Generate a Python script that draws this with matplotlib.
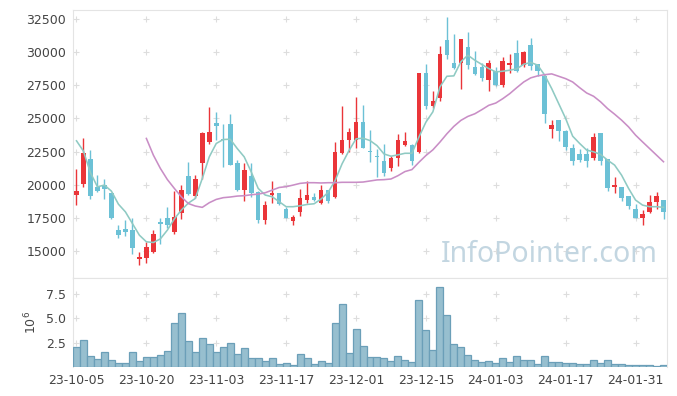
import numpy as np
import pandas as pd
import matplotlib
matplotlib.use("Agg")
import matplotlib.pyplot as plt

# trading days (KRX holidays removed)
holidays = ["2023-10-09", "2023-12-25", "2023-12-29", "2024-01-01"]
dates = pd.bdate_range("2023-10-05", "2024-02-06", freq="C", holidays=holidays)

opens = [19250, 20050, 21950, 19850, 19950, 19350, 16550, 16650, 16550, 14400,
         14450, 14950, 17200, 17450, 16450, 17900, 20650, 19150, 21600, 23250,
         24650, 23450, 24550, 21650, 19600, 20650, 19450, 17300, 19250, 19350,
         18150, 17250, 17950, 18850, 19050, 18600, 19600, 19050, 22400, 23350,
         23350, 24750, 22500, 22150, 21800, 21250, 22000, 23000, 23000, 22450,
         28400, 25900, 26550, 30900, 29150, 29150, 30400, 28850, 28850, 27900,
         28550, 27550, 29050, 29900, 29000, 30550, 29100, 28200, 24200, 24850,
         24050, 22750, 22300, 22300, 22050, 23900, 21950, 19800, 19800, 19150,
         18150, 17500, 17950, 18700, 18850]
highs = [21150, 23550, 22650, 20750, 20450, 19400, 16950, 17350, 17450, 14950,
         15700, 16600, 17450, 18300, 19500, 19950, 21700, 20700, 23950, 25850,
         25450, 24550, 25300, 21900, 21600, 21600, 19500, 18800, 20250, 19400,
         18350, 17700, 19700, 20300, 19400, 20000, 19600, 23250, 25900, 24250,
         26650, 26050, 24100, 22700, 23100, 22150, 23850, 23950, 23050, 28450,
         29100, 27050, 30450, 32650, 31400, 31000, 31550, 30100, 29150, 29400,
         28850, 29650, 29850, 30950, 30050, 31050, 29100, 28300, 24900, 24850,
         24150, 23100, 22700, 22750, 23900, 23900, 21950, 20600, 19800, 19150,
         18550, 18100, 19200, 19450, 18850]
lows = [18500, 19850, 18950, 19450, 18900, 17400, 16000, 16150, 14750, 13950,
        14100, 14850, 15500, 16700, 16250, 17400, 19250, 19000, 20450, 23050,
        23350, 21300, 21450, 19500, 18800, 19100, 17100, 17000, 18600, 18500,
        17450, 16950, 17650, 18600, 18800, 18550, 18600, 19000, 22300, 22500,
        22750, 22750, 21700, 20600, 20650, 21050, 21400, 22900, 21450, 22400,
        25700, 25750, 26350, 29450, 28700, 27250, 28700, 28250, 27800, 27050,
        27450, 27400, 28400, 28500, 28850, 28650, 28200, 24650, 23500, 23300,
        22600, 21450, 21700, 21300, 21900, 21450, 19500, 19350, 18750, 18150,
        17500, 16950, 17900, 18200, 17400]
closes = [19500, 22400, 19150, 19550, 19700, 17450, 16200, 16400, 15250, 14550,
          15300, 16300, 17050, 16950, 17550, 19600, 19300, 20450, 23900, 23950,
          24450, 23350, 21500, 19600, 21100, 19400, 17300, 18450, 19400, 18550,
          17500, 17550, 19000, 19200, 18850, 19600, 18800, 22500, 23350, 24000,
          24700, 22800, 22450, 22100, 20850, 22000, 23400, 23300, 21750, 28400,
          25900, 26300, 29850, 29800, 28800, 31000, 29050, 28350, 28050, 29150,
          27550, 29300, 29200, 28550, 30000, 28950, 28550, 25300, 24500, 24050,
          22850, 21750, 21900, 21750, 23600, 21800, 19750, 20000, 19000, 18400,
          17500, 17800, 18700, 19150, 17950]
ma_short = [23310, 22530, 20900, 19840, 19970, 19510, 18530, 17950, 17070, 16190,
            15690, 15640, 15910, 16570, 17420, 18080, 18610, 18960, 20470, 22100,
            23110, 23410, 23430, 22730, 22100, 20970, 19720, 19220, 19090, 18720,
            18340, 18340, 18410, 18510, 18560, 18920, 19420, 20300, 21570, 22580,
            23460, 23510, 23330, 22950, 22320, 22150, 22250, 22370, 22370, 23590,
            24720, 25500, 27370, 28180, 28210, 29270, 29770, 29390, 29070, 28760,
            28510, 28560, 28640, 28740, 29090, 29220, 29020, 28260, 27250, 26120,
            24990, 23660, 23110, 22610, 22480, 22280, 21850, 21480, 20720, 19720,
            18840, 18460, 18340, 18340, 18290]
ma_long = [np.nan] * 10 + [
            23490, 22230, 21230, 20390, 19720, 19090, 18580, 18390, 18290, 18640,
            18890, 19020, 19070, 19140, 19170, 19240, 19290, 19390, 19590, 19790,
            19850, 19970, 20100, 20150, 20150, 20130, 20150, 20150, 20180, 20180,
            20180, 20200, 20280, 20360, 20380, 20430, 20680, 20990, 21140, 21690,
            22200, 22630, 23210, 23840, 24400, 24850, 25150, 25350, 25660, 25990,
            26160, 26490, 26870, 27320, 27750, 28060, 28210, 28300, 28360, 28180,
            28000, 27750, 27320, 26920, 26670, 26250, 25740, 25320, 24870, 24360,
            23740, 23230, 22730, 22230, 21730]
volumes = [2.03, 2.75, 1.12, 0.82, 1.55, 0.72, 0.42, 0.42, 1.55, 0.62,
           1.02, 1.02, 1.22, 1.65, 4.48, 5.50, 2.65, 1.55, 2.95, 2.35,
           1.55, 2.03, 2.45, 1.32, 1.93, 0.92, 0.92, 0.62, 0.92, 0.32,
           0.42, 0.22, 1.32, 0.92, 0.32, 0.62, 0.42, 4.48, 6.40, 1.42,
           3.85, 2.12, 1.02, 1.02, 0.92, 0.62, 1.12, 0.72, 0.52, 6.80,
           3.75, 1.72, 8.20, 5.28, 2.35, 2.03, 1.22, 0.72, 0.52, 0.62,
           0.42, 0.92, 0.52, 1.12, 0.72, 0.72, 0.32, 1.12, 0.52, 0.52,
           0.42, 0.42, 0.32, 0.32, 0.72, 0.42, 0.72, 0.32, 0.32, 0.22,
           0.22, 0.22, 0.22, 0.12, 0.22]

UP = "#ea3539"
DOWN = "#6cc1d6"
GRID = "#dddddd"
SPINE = "#e4e4e4"
TXT = "#444444"

plt.rcParams["font.family"] = ["DejaVu Sans"]

n = len(closes)
x = np.arange(n)
o = np.array(opens)
c = np.array(closes)
up = c >= o
colors = np.where(up, UP, DOWN)

fig = plt.figure(figsize=(6.77, 3.96), dpi=100)
ax = fig.add_axes([73 / 677, 1 - 278 / 396, 594 / 677, 268 / 396])
axv = fig.add_axes([73 / 677, 1 - 367 / 396, 594 / 677, 89 / 396], sharex=ax)

# candles
ax.vlines(x, lows, highs, colors=colors, linewidth=1.0, zorder=3)
body = np.maximum(np.abs(c - o), 60)
ax.bar(x, body, bottom=np.minimum(o, c), width=0.66, color=colors, zorder=4)
ax.plot(x, ma_short, color="#8fcac3", linewidth=1.15, zorder=5)
ax.plot(x, ma_long, color="#c98ec6", linewidth=1.15, zorder=5)

ax.set_xlim(-0.5, n - 0.5)
ax.set_ylim(12960, 33180)
yt = np.arange(15000, 32501, 2500)
ax.set_yticks(yt)
ax.set_yticklabels([str(v) for v in yt])
xt = np.arange(0, n, 10)
gx, gy = np.meshgrid(xt, yt)
ax.plot(gx.ravel(), gy.ravel(), "+", color=GRID, markersize=4, mew=0.8, zorder=1)
ax.tick_params(axis="x", which="both", bottom=False, labelbottom=False)

ax.text(0.985, 0.035, "InfoPointer.com", transform=ax.transAxes, ha="right",
        va="bottom", fontsize=20.5, color="#c3d6e1", family="Noto Sans", zorder=2)

# volume
axv.bar(x, volumes, width=1.0, color="#97bfcf", edgecolor="#6b9fb8",
        linewidth=0.9, zorder=3)
axv.set_ylim(0, 9.1)
vt = [2.5, 5.0, 7.5]
axv.set_yticks(vt)
axv.set_yticklabels(["2.5", "5.0", "7.5"])
gx, gy = np.meshgrid(xt, vt)
axv.plot(gx.ravel(), gy.ravel(), "+", color=GRID, markersize=4, mew=0.8, zorder=1)
axv.set_xticks(xt)
axv.set_xticklabels([d.strftime("%y-%m-%d") for d in dates[xt]])
axv.set_ylabel("10$^6$", color=TXT, fontsize=9, labelpad=5)

for a in (ax, axv):
    a.tick_params(length=0, labelsize=9, labelcolor=TXT, pad=5)
    for s in a.spines.values():
        s.set_color(SPINE)
axv.spines["bottom"].set_visible(False)

fig.savefig("out.png", dpi=100)
